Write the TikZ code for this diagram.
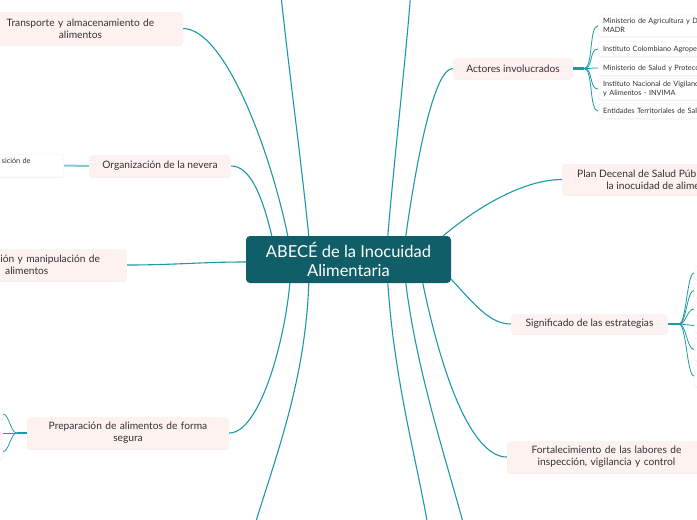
\documentclass[tikz,border=0pt]{standalone}
\usepackage{fontspec}
\setmainfont{Lato}
\usepackage{tikz}
\usetikzlibrary{positioning, calc, shadows}
\definecolor{rootbg}{RGB}{16, 94, 103}
\definecolor{linkteal}{RGB}{27, 153, 167}
\definecolor{linklight}{RGB}{128, 202, 210}
\definecolor{topicbg}{RGB}{253, 242, 240}
\definecolor{textdark}{RGB}{50, 50, 50}
\definecolor{leafborder}{RGB}{236, 236, 236}
\tikzset{
  rootblock/.style={
    rectangle, rounded corners=4pt, fill=rootbg, text=white,
    minimum width=205pt, minimum height=47pt, inner sep=0pt,
    align=center, font=\fontsize{16.5}{19}\selectfont
  },
  topicblock/.style={
    rectangle, rounded corners=4pt, fill=topicbg, text=textdark,
    inner sep=0pt, align=center, font=\fontsize{10.2}{11.8}\selectfont,
    drop shadow={opacity=0.10, shadow xshift=0pt, shadow yshift=-1.2pt}
  },
  leafblock/.style={
    rectangle, rounded corners=3pt, fill=white, draw=leafborder, line width=0.3pt,
    text=textdark, inner xsep=5pt, inner ysep=0pt, align=left,
    font=\fontsize{7.3}{9}\selectfont,
    drop shadow={opacity=0.10, shadow xshift=0pt, shadow yshift=-1pt}
  },
  branchline/.style={draw=linkteal, line width=1.1pt},
  stemline/.style={draw=linkteal, line width=2.2pt},
  softstem/.style={draw=linklight, line width=2pt},
  fanline/.style={draw=linkteal, line width=0.8pt}
}
\begin{document}
\begin{tikzpicture}[x=1pt, y=-1pt]
  \useasboundingbox (0,0) rectangle (697,520);
  \clip (0,0) rectangle (697,520);

  % Central topic
  \node[rootblock] (root) at (348.5,259.5) {ABECÉ de la Inocuidad\\ Alimentaria};

  % Left branches
  \node[topicblock, minimum width=205pt, minimum height=33pt, text width=195pt] (transporte) at (80.5,28.5) {Transporte y almacenamiento de\\ alimentos};
  \node[topicblock, minimum width=142pt, minimum height=22pt] (nevera) at (160,166) {Organización de la nevera};
  \node[leafblock, anchor=east, text width=58pt, minimum height=23pt, inner xsep=4pt] (disposicion) at (64,165.5) {sición de\\ \mbox{}};
  \node[topicblock, anchor=east, minimum width=200pt, minimum height=32pt, text width=190pt] (manipulacion) at (127,265) {Conservación y manipulación de\\ alimentos};
  \node[topicblock, minimum width=202pt, minimum height=32pt, text width=192pt] (preparacion) at (128,433) {Preparación de alimentos de forma\\ segura};

  % Leaves of Preparación (cut by the frame)
  \node[leafblock, anchor=east, minimum width=40pt, minimum height=13pt] (prepA) at (3,414) {};
  \node[leafblock, anchor=east, minimum width=40pt, minimum height=13pt] (prepB) at (3,433) {};
  \node[leafblock, anchor=east, minimum width=40pt, minimum height=16pt] (prepC) at (3,451.5) {};

  % Right branches
  \node[topicblock, minimum width=120pt, minimum height=21pt] (actores) at (513,68.5) {Actores involucrados};
  \node[topicblock, anchor=west, inner xsep=15pt, minimum height=31pt] (plan) at (562,179.5) {Plan Decenal de Salud Pública frente a\\ la inocuidad de alimentos};
  \node[topicblock, minimum width=157pt, minimum height=20pt] (significado) at (589.5,324) {Significado de las estrategias};
  \node[topicblock, minimum width=199pt, minimum height=32pt, text width=189pt] (fortalecimiento) at (606.5,457) {Fortalecimiento de las labores de\\ inspección, vigilancia y control};

  % Leaves of Actores involucrados
  \node[leafblock, anchor=west, text width=200pt, minimum height=21.5pt] (madr) at (598,25.8) {Ministerio de Agricultura y Desarrollo Rural -\\ MADR};
  \node[leafblock, anchor=west, text width=200pt, minimum height=15pt] (ica) at (598,49) {Instituto Colombiano Agropecuario - ICA};
  \node[leafblock, anchor=west, text width=200pt, minimum height=15pt] (minsalud) at (598,68) {Ministerio de Salud y Protección Social};
  \node[leafblock, anchor=west, text width=200pt, minimum height=21.5pt] (invima) at (598,89) {Instituto Nacional de Vigilancia de Medicamentos\\ y Alimentos - INVIMA};
  \node[leafblock, anchor=west, text width=200pt, minimum height=15pt] (territorial) at (598,111) {Entidades Territoriales de Salud};

  % Leaves of Significado (cut by the frame)
  \node[leafblock, anchor=west, minimum width=40pt, minimum height=14pt] (sigA) at (694,273) {};
  \node[leafblock, anchor=west, minimum width=40pt, minimum height=15pt] (sigB) at (694,290.5) {};
  \node[leafblock, anchor=west, minimum width=40pt, minimum height=14pt] (sigC) at (694,309) {};
  \node[leafblock, anchor=west, minimum width=40pt, minimum height=15pt] (sigD) at (694,325.5) {};
  \node[leafblock, anchor=west, minimum width=40pt, minimum height=23pt] (sigE) at (694,349.5) {};
  \node[leafblock, anchor=west, minimum width=40pt, minimum height=22pt] (sigF) at (694,376) {};

  % Branches leaving the frame
  \coordinate (upleft) at (279,-25);
  \coordinate (upright) at (412,-25);
  \coordinate (downleft) at (249,545);
  \coordinate (downmid) at (431,545);
  \coordinate (downright) at (469,545);

  % Joints of the leaf fans
  \coordinate (actjoin) at ([xshift=11pt]actores.east);
  \coordinate (sigjoin) at ([xshift=11pt]significado.east);
  \coordinate (prepjoin) at ([xshift=-10pt]preparacion.west);

  % Connectors from the central topic
  \draw[branchline] ([xshift=42pt]root.north west) .. controls (270,150) and (225,29) .. (transporte.east);
  \draw[branchline] ([xshift=26pt]root.north west) .. controls (262,195) and (250,166) .. (nevera.east);
  \draw[branchline] ([yshift=-2.5pt]root.west) .. controls (200,262) and (175,265) .. (manipulacion.east);
  \draw[branchline] ([xshift=44pt]root.south west) .. controls (285,340) and (260,433) .. (preparacion.east);
  \draw[branchline] ([xshift=63pt]root.north west) .. controls (300,150) and (285,40) .. (upleft);
  \draw[branchline] ([xshift=142pt]root.north west) .. controls (395,150) and (408,40) .. (upright);
  \draw[branchline] ([xshift=160pt]root.north west) .. controls (418,150) and (435,68.5) .. (actores.west);
  \draw[branchline] ([xshift=-8pt]root.north east) .. controls (480,205) and (525,179.5) .. (plan.west);
  \draw[branchline] ([yshift=4pt]root.south east) .. controls (475,305) and (490,324) .. (significado.west);
  \draw[branchline] ([xshift=177pt]root.south west) .. controls (445,390) and (475,457) .. (fortalecimiento.west);
  \draw[branchline] ([xshift=63pt]root.south west) .. controls (305,390) and (270,470) .. (downleft);
  \draw[branchline] ([xshift=142pt]root.south west) .. controls (395,390) and (420,470) .. (downmid);
  \draw[branchline] ([xshift=160pt]root.south west) .. controls (418,380) and (450,470) .. (downright);

  % Leaf fans
  \draw[softstem] (nevera.west) -- (disposicion.east);

  \draw[stemline] (actores.east) -- (actjoin);
  \foreach \leaf in {madr, ica, minsalud, invima, territorial}
    \draw[fanline] (actjoin) .. controls ([xshift=9pt]actjoin) and ([xshift=-9pt]\leaf.west) .. (\leaf.west);

  \draw[stemline] (significado.east) -- (sigjoin);
  \foreach \leaf in {sigA, sigB, sigC, sigD, sigE, sigF}
    \draw[fanline] (sigjoin) .. controls ([xshift=7pt]sigjoin) and ([xshift=-7pt]\leaf.west) .. (\leaf.west);

  \draw[stemline, line width=1.2pt] (preparacion.west) -- (prepjoin);
  \foreach \leaf in {prepA, prepB, prepC}
    \draw[fanline] (prepjoin) .. controls ([xshift=-6pt]prepjoin) and ([xshift=6pt]\leaf.east) .. (\leaf.east);
\end{tikzpicture}
\end{document}
